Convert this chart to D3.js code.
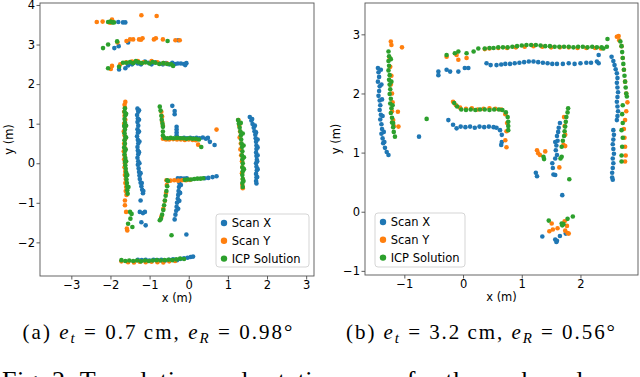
<!DOCTYPE html>
<html>
<head>
<meta charset="utf-8">
<script src="https://cdn.jsdelivr.net/npm/d3@7"></script>
<style>
  html, body { margin: 0; padding: 0; background: #fff; }
  svg { display: block; }
</style>
</head>
<body>
<div id="chart"></div>
<script>
// ---- data (metres) ----
const seriesNames = ["Scan X", "Scan Y", "ICP Solution"];
const seriesColors = ["#1f77b4", "#ff7f0e", "#2ca02c"];

// panel (a)
const xTicksA = [-3, -2, -1, 0, 1, 2, 3];
const yTicksA = [-2, -1, 0, 1, 2, 3, 4];

const scanXA = [
  [-1.80,3.57],[-1.68,3.56],[-1.62,3.56],
  [-1.90,2.91],[-1.79,2.96],[-1.55,3.05],[-0.27,3.11],
  [-1.78,2.37],[-1.62,2.40],[-1.55,2.47],[-1.45,2.50],[-1.38,2.55],[-1.30,2.52],[-1.22,2.50],[-1.12,2.57],
  [-1.02,2.54],[-0.95,2.50],[-0.85,2.55],[-0.75,2.52],[-0.66,2.50],[-0.58,2.53],[-0.50,2.50],[-0.42,2.54],
  [-0.35,2.51],[-0.28,2.52],[-0.20,2.52],[-0.12,2.51],[-0.06,2.53],[-0.09,2.48],
  [-1.31,1.38],[-1.29,1.30],[-1.32,1.22],[-1.30,1.13],[-1.31,1.04],[-1.29,0.95],[-1.31,0.86],[-1.30,0.77],
  [-1.32,0.68],[-1.30,0.59],[-1.29,0.50],[-1.31,0.41],[-1.30,0.32],[-1.29,0.23],[-1.31,0.14],[-1.29,0.05],
  [-1.30,-0.04],[-1.28,-0.13],[-1.27,-0.22],[-1.26,-0.31],[-1.25,-0.40],[-1.23,-0.49],[-1.21,-0.58],
  [-1.19,-0.67],[-1.17,-0.76],
  [-1.27,1.34],[-1.27,1.10],[-1.27,0.80],[-1.26,0.55],[-1.27,0.28],[-1.26,0.00],[-1.23,-0.25],[-1.20,-0.50],[-1.16,-0.70],
  [-1.23,-0.94],[-1.25,-1.23],[-1.17,-1.26],[-1.12,-1.23],[-1.21,-1.49],[-1.10,-1.57],
  [-0.42,1.45],[-0.36,1.32],[-0.36,1.24],[-0.31,0.92],[-0.31,0.85],[-0.31,0.78],[-0.31,0.71],
  [-0.28,0.64],[-0.20,0.63],[-0.12,0.64],[-0.04,0.63],[0.04,0.64],[0.12,0.63],[0.20,0.64],[0.28,0.63],
  [0.36,0.65],[0.44,0.62],[0.49,0.64],[0.54,0.54],[0.66,0.46],
  [1.56,1.17],[1.60,1.08],[1.63,0.99],[1.66,0.90],[1.68,0.81],[1.70,0.72],[1.71,0.63],[1.72,0.54],[1.73,0.45],
  [1.73,0.36],[1.72,0.27],[1.73,0.18],[1.74,0.09],[1.72,0.00],[1.73,-0.09],[1.74,-0.18],[1.72,-0.27],
  [1.73,-0.36],[1.72,-0.45],[1.73,-0.51],
  [1.62,1.12],[1.69,0.95],[1.72,0.78],[1.76,0.60],[1.76,0.40],[1.76,0.20],[1.75,0.05],[1.76,-0.15],[1.75,-0.35],
  [-0.23,-0.40],[-0.24,-0.50],[-0.25,-0.60],[-0.26,-0.70],[-0.27,-0.80],[-0.28,-0.90],[-0.30,-1.00],
  [-0.31,-1.10],[-0.32,-1.20],[-0.34,-1.30],[-0.36,-1.42],
  [-0.20,-0.55],[-0.22,-0.75],[-0.24,-0.95],[-0.27,-1.15],
  [-0.28,-0.38],[-0.20,-0.38],[-0.12,-0.39],[-0.05,-0.38],[0.41,-0.38],[0.50,-0.37],[0.61,-0.35],[0.71,-0.33],
  [-0.06,-1.80],
  [-1.30,-2.44],[-1.20,-2.45],[-1.10,-2.44],[-1.00,-2.46],[-0.90,-2.44],[-0.80,-2.45],[-0.70,-2.44],
  [-0.60,-2.46],[-0.50,-2.44],[-0.40,-2.43],[-0.30,-2.45],[-0.22,-2.42],[-0.12,-2.40],[-0.03,-2.39],
  [0.05,-2.37],[0.11,-2.36]
];

const scanYA = [
  [-2.35,3.57],[-2.20,3.58],[-1.96,3.63],[-2.01,3.55],[-1.21,3.74],[-0.82,3.72],
  [-1.82,3.05],[-1.59,3.09],[-1.50,3.13],[-1.42,3.13],[-1.27,3.13],[-1.18,3.16],[-1.22,3.12],
  [-0.89,3.13],[-0.84,3.16],[-0.66,3.13],[-0.34,3.11],[-0.23,3.11],
  [-1.96,2.46],[-1.99,2.38],[-1.75,2.50],[-1.60,2.55],[-1.45,2.57],[-1.30,2.58],[-1.15,2.55],
  [-0.95,2.58],[-0.80,2.55],[-0.65,2.53],[-0.55,2.52],
  [-1.62,1.55],[-1.64,1.48],[-1.63,1.40],[-1.65,1.30],[-1.64,1.20],[-1.62,1.10],[-1.65,1.00],[-1.63,0.90],
  [-1.66,0.80],[-1.64,0.70],[-1.63,0.60],[-1.65,0.50],[-1.64,0.40],[-1.66,0.30],[-1.64,0.20],[-1.65,0.10],
  [-1.63,0.00],[-1.64,-0.10],[-1.62,-0.20],[-1.63,-0.30],[-1.61,-0.40],[-1.62,-0.50],[-1.60,-0.60],
  [-1.61,-0.70],[-1.59,-0.80],[-1.63,-0.94],[-1.63,-1.06],[-1.60,-1.23],[-1.58,-1.65],[-1.57,-1.70],
  [-0.70,1.30],[-0.68,1.18],[-0.68,1.05],[-0.66,0.95],
  [-0.66,0.62],[-0.58,0.60],[-0.50,0.60],[-0.40,0.61],[-0.30,0.60],[-0.20,0.60],[-0.10,0.59],[0.00,0.60],
  [0.10,0.59],[0.18,0.58],[0.24,0.47],[0.71,0.85],
  [1.27,1.09],[1.29,0.95],[1.31,0.80],[1.30,0.65],[1.33,0.50],[1.32,0.35],[1.34,0.20],[1.36,0.05],
  [1.37,-0.10],[1.36,-0.25],[1.38,-0.40],[1.37,-0.55],[1.38,-0.63],
  [-0.57,-0.43],[-0.47,-0.44],[-0.37,-0.43],[-0.27,-0.44],[-0.17,-0.43],[-0.07,-0.43],[0.03,-0.42],
  [-0.56,-0.55],[-0.58,-0.75],[-0.61,-0.95],[-0.65,-1.15],[-0.70,-1.35],
  [-1.72,-2.48],[-1.55,-2.50],[-1.40,-2.51],[-1.25,-2.49],[-1.10,-2.50],[-0.95,-2.49],[-0.80,-2.50],
  [-0.65,-2.51],[-0.50,-2.48],[-0.35,-2.47]
];

const icpA = [
  [-2.06,3.57],[-1.95,3.56],[-1.91,3.56],[-2.00,3.58],
  [-2.19,2.91],[-2.06,3.00],[-1.83,3.08],[-0.54,3.09],
  [-2.06,2.40],[-1.78,2.44],[-1.68,2.54],[-1.59,2.54],[-1.50,2.56],[-1.42,2.53],[-1.35,2.58],[-1.28,2.55],
  [-1.20,2.53],[-1.10,2.55],[-1.00,2.52],[-0.92,2.56],[-0.85,2.54],[-0.75,2.51],[-0.65,2.53],[-0.55,2.51],
  [-0.45,2.50],[-0.40,2.46],
  [-1.63,1.39],[-1.64,1.30],[-1.62,1.21],[-1.64,1.12],[-1.63,1.03],[-1.65,0.94],[-1.63,0.85],[-1.64,0.76],
  [-1.62,0.67],[-1.64,0.58],[-1.63,0.49],[-1.65,0.40],[-1.63,0.31],[-1.64,0.22],[-1.62,0.13],[-1.63,0.04],
  [-1.62,-0.05],[-1.61,-0.14],[-1.60,-0.23],[-1.60,-0.32],[-1.59,-0.41],[-1.58,-0.50],[-1.57,-0.59],
  [-1.57,-0.68],[-1.56,-0.77],
  [-1.60,1.25],[-1.60,0.95],[-1.60,0.65],[-1.61,0.35],[-1.60,0.05],[-1.57,-0.30],[-1.54,-0.60],
  [-1.50,-1.23],[-1.46,-1.28],[-1.49,-1.40],[-1.44,-1.61],[-1.55,-1.53],
  [-0.74,1.43],[-0.72,1.33],[-0.70,1.20],[-0.69,1.10],[-0.67,1.00],[-0.66,0.92],[-0.66,0.80],[-0.66,0.70],
  [-0.62,0.64],[-0.54,0.63],[-0.46,0.64],[-0.38,0.63],[-0.30,0.64],[-0.22,0.63],[-0.14,0.63],[-0.06,0.62],
  [0.02,0.63],[0.10,0.62],[0.18,0.62],[0.26,0.60],[0.32,0.41],
  [1.26,1.09],[1.28,1.00],[1.30,0.90],[1.32,0.80],[1.33,0.70],[1.34,0.60],[1.35,0.50],[1.36,0.41],
  [1.37,0.30],[1.36,0.20],[1.37,0.10],[1.38,0.00],[1.37,-0.10],[1.38,-0.20],[1.37,-0.30],[1.38,-0.40],
  [1.37,-0.50],[1.38,-0.60],
  [1.33,1.02],[1.38,0.75],[1.40,0.45],[1.41,0.15],[1.41,-0.15],[1.40,-0.45],
  [-0.53,-0.45],[-0.55,-0.58],[-0.57,-0.70],[-0.59,-0.82],[-0.61,-0.94],[-0.63,-1.06],[-0.65,-1.18],
  [-0.68,-1.30],[-0.71,-1.40],[-0.74,-1.44],
  [-0.55,-0.43],[-0.10,-0.42],[-0.02,-0.41],[0.06,-0.41],[0.14,-0.40],[0.22,-0.39],[0.30,-0.39],[0.37,-0.38],
  [-0.44,-1.82],
  [-1.72,-2.45],[-1.62,-2.47],[-1.52,-2.46],[-1.42,-2.47],[-1.32,-2.46],[-1.22,-2.48],[-1.12,-2.46],
  [-1.02,-2.47],[-0.92,-2.46],[-0.82,-2.45],[-0.72,-2.46],[-0.62,-2.45],[-0.52,-2.44],[-0.42,-2.45],
  [-0.32,-2.43],[-0.22,-2.41],[-0.12,-2.42]
];

// panel (b)
const xTicksB = [-1, 0, 1, 2];
const yTicksB = [-1, 0, 1, 2, 3];

const scanXB = [
  [-1.45,2.43],[-1.44,2.36],[-1.43,2.28],[-1.45,2.20],[-1.42,2.12],[-1.43,2.04],[-1.44,1.96],[-1.42,1.88],
  [-1.41,1.80],[-1.42,1.72],[-1.40,1.64],[-1.41,1.56],[-1.39,1.48],[-1.38,1.40],[-1.39,1.32],[-1.37,1.24],
  [-1.36,1.16],[-1.33,1.08],[-1.30,1.01],[-1.27,0.96],
  [-1.40,2.40],[-1.39,2.15],[-1.38,1.90],[-1.37,1.62],[-1.35,1.35],[-1.34,1.18],
  [-0.75,1.27],
  [-0.42,2.37],[-0.42,2.31],[-0.28,2.40],[-0.22,2.37],[-0.08,2.37],[0.03,2.43],[0.09,2.43],
  [0.40,2.51],[0.47,2.48],[0.57,2.48],[0.65,2.49],[0.72,2.50],[0.80,2.50],[0.88,2.51],[0.96,2.52],
  [1.04,2.53],[1.12,2.54],[1.20,2.54],[1.28,2.53],[1.36,2.52],[1.44,2.51],[1.52,2.50],[1.60,2.50],
  [1.70,2.50],[1.80,2.51],[1.90,2.50],[2.00,2.51],[2.10,2.52],[2.18,2.52],[2.28,2.54],[2.31,2.51],[2.31,2.65],
  [2.53,2.62],[2.56,2.55],[2.58,2.48],[2.60,2.41],[2.62,2.34],[2.63,2.26],[2.62,2.18],[2.63,2.10],
  [2.64,2.02],[2.63,1.94],[2.62,1.86],[2.63,1.78],[2.64,1.70],[2.63,1.62],[2.62,1.55],
  [2.56,1.38],[2.57,1.30],[2.56,1.22],[2.55,1.14],[2.56,1.06],[2.57,0.98],[2.55,0.90],[2.56,0.82],
  [2.55,0.74],[2.54,0.66],[2.54,0.58],[2.55,0.54],
  [-0.25,1.55],[-0.17,1.47],[-0.11,1.41],[-0.04,1.44],[0.04,1.43],[0.12,1.44],[0.20,1.42],[0.28,1.44],
  [0.36,1.43],[0.44,1.44],[0.52,1.43],[0.57,1.42],[0.63,1.38],[0.66,1.30],[0.66,1.18],[0.65,1.13],
  [1.65,1.50],[1.63,1.42],[1.62,1.35],[1.60,1.28],[1.61,1.20],[1.59,1.12],[1.58,1.04],[1.60,0.96],
  [1.57,0.90],[1.57,1.18],
  [1.52,0.82],[1.53,0.74],[1.24,0.66],[1.26,0.60],[1.54,0.63],[1.57,0.62],[1.69,0.28],
  [1.75,-0.37],[1.65,-0.41],[1.35,-0.42],[1.57,-0.47],[1.60,-0.49],[1.59,-0.51]
];

const scanYB = [
  [-1.23,2.88],[-1.22,2.82],[-1.04,2.78],
  [-1.25,2.60],[-1.24,2.45],[-1.22,2.30],[-1.23,2.15],[-1.21,2.00],[-1.20,1.85],[-1.21,1.70],
  [-1.19,1.55],[-1.18,1.45],[-1.11,1.69],[-1.10,1.44],
  [-0.08,2.57],[0.06,2.60],[-0.28,2.62],[-0.11,2.65],[0.37,2.75],
  [0.45,2.76],[0.60,2.77],[0.75,2.77],[0.90,2.78],[1.05,2.79],[1.20,2.80],[1.35,2.79],[1.50,2.78],
  [1.65,2.78],[1.80,2.78],[1.95,2.77],[2.10,2.77],[2.25,2.77],[2.35,2.76],[2.62,2.96],[2.65,2.97],
  [2.66,2.90],[2.70,2.80],[2.72,2.60],[2.74,2.40],[2.76,2.20],[2.78,2.00],[2.80,1.85],[2.78,1.70],
  [2.76,1.55],[2.74,1.40],[2.75,1.25],[2.76,1.10],[2.77,0.95],[2.76,0.85],
  [-0.17,1.86],[-0.12,1.80],[-0.05,1.76],[0.05,1.74],[0.15,1.75],[0.25,1.73],[0.35,1.74],[0.45,1.75],
  [0.55,1.74],[0.65,1.73],[0.72,1.65],[0.75,1.50],[0.74,1.36],[0.72,1.21],[0.74,1.09],
  [1.72,1.60],[1.73,1.45],[1.74,1.30],[1.71,1.13],[1.74,1.11],[1.64,0.75],
  [1.26,1.04],[1.28,0.99],[1.31,0.96],[1.40,1.02],
  [1.51,-0.20],[1.73,-0.16],[1.77,-0.24],[1.53,-0.30],[1.61,-0.28],[1.47,-0.33],[1.74,-0.32],
  [1.78,-0.36],[1.80,-0.37]
];

const icpB = [
  [-1.27,2.71],[-1.26,2.63],[-1.27,2.55],[-1.26,2.47],[-1.27,2.39],[-1.25,2.31],[-1.26,2.23],[-1.25,2.15],
  [-1.24,2.07],[-1.25,1.99],[-1.23,1.91],[-1.24,1.83],[-1.22,1.75],[-1.23,1.67],[-1.21,1.59],[-1.21,1.51],
  [-1.19,1.43],[-1.18,1.35],[-1.16,1.27],
  [-1.23,2.58],[-1.22,2.20],[-1.20,1.80],[-1.19,1.50],
  [-0.62,1.57],
  [-0.28,2.65],[-0.14,2.68],[-0.08,2.71],[0.06,2.68],[0.18,2.71],[0.26,2.76],[0.37,2.76],[0.45,2.77],
  [0.52,2.77],[0.60,2.78],[0.68,2.78],[0.76,2.78],[0.84,2.79],[0.92,2.80],[1.00,2.81],[1.08,2.82],
  [1.16,2.82],[1.24,2.82],[1.32,2.81],[1.40,2.80],[1.48,2.80],[1.56,2.79],[1.64,2.79],[1.72,2.79],
  [1.80,2.79],[1.88,2.78],[1.96,2.79],[2.04,2.79],[2.12,2.78],[2.20,2.79],[2.28,2.78],[2.36,2.78],
  [2.39,2.76],[2.45,2.79],[2.46,2.92],
  [2.68,2.88],[2.70,2.80],[2.71,2.70],[2.72,2.60],[2.73,2.50],[2.74,2.40],[2.75,2.30],[2.76,2.20],
  [2.77,2.10],[2.78,2.00],[2.79,1.95],[2.72,1.80],[2.71,1.65],[2.72,1.50],[2.70,1.38],[2.72,1.25],
  [2.71,1.10],[2.70,0.95],[2.70,0.85],
  [-0.15,1.84],[-0.10,1.78],[-0.03,1.73],[0.05,1.72],[0.13,1.73],[0.21,1.72],[0.29,1.73],[0.37,1.73],
  [0.45,1.72],[0.53,1.73],[0.61,1.73],[0.67,1.72],[0.73,1.68],[0.76,1.60],[0.77,1.52],[0.77,1.45],[0.77,1.38],
  [1.79,1.75],[1.78,1.68],[1.76,1.60],[1.75,1.52],[1.74,1.44],[1.73,1.36],[1.72,1.28],[1.70,1.20],
  [1.68,1.10],[1.68,0.93],[1.66,0.90],[1.81,0.55],[1.37,0.93],[1.38,0.89],
  [1.46,-0.15],[1.68,-0.20],[1.71,-0.21],[1.78,-0.12],[1.87,-0.08],[1.69,-0.23]
];

const captionA = { label: "(a) ", et: "0.7", eR: "0.98" };
const captionB = { label: "(b) ", et: "3.2", eR: "0.56" };
const figCaption = "Fig. 2: Translation and rotation error for the on-board com";

// ---- drawing ----
const W = 640, H = 377;
const svg = d3.select("#chart").append("svg")
  .attr("width", W).attr("height", H)
  .attr("viewBox", [0, 0, W, H]);

const tickFont = "DejaVu Sans, sans-serif";

function drawPanel(p) {
  const x = d3.scaleLinear().domain(p.xDomain).range([p.left, p.right]);
  const y = d3.scaleLinear().domain(p.yDomain).range([p.bottom, p.top]);
  const g = svg.append("g");

  const clipId = "clip-" + p.id;
  g.append("clipPath").attr("id", clipId)
    .append("rect")
    .attr("x", p.left).attr("y", p.top)
    .attr("width", p.right - p.left).attr("height", p.bottom - p.top);

  const pts = g.append("g").attr("clip-path", `url(#${clipId})`);
  p.series.forEach((s, i) => {
    pts.append("g")
      .attr("fill", seriesColors[i])
      .selectAll("circle")
      .data(s)
      .join("circle")
      .attr("cx", d => x(d[0]))
      .attr("cy", d => y(d[1]))
      .attr("r", 2.3);
  });

  const xAxis = g.append("g")
    .attr("transform", `translate(0,${p.bottom})`)
    .call(d3.axisBottom(x).tickValues(p.xTicks).tickSize(3.5).tickPadding(1).tickFormat(d3.format("d")));
  const yAxis = g.append("g")
    .attr("transform", `translate(${p.left},0)`)
    .call(d3.axisLeft(y).tickValues(p.yTicks).tickSize(3.5).tickPadding(1.5).tickFormat(d3.format("d")));
  [xAxis, yAxis].forEach(a => {
    a.select(".domain").remove();
    a.selectAll("line").attr("stroke", "#333").attr("stroke-width", 0.8);
    a.selectAll("text").attr("fill", "#000")
      .style("font-family", tickFont).style("font-size", "11.5px");
  });

  g.append("rect")
    .attr("x", p.left).attr("y", p.top)
    .attr("width", p.right - p.left).attr("height", p.bottom - p.top)
    .attr("fill", "none").attr("stroke", "#555").attr("stroke-width", 0.9);

  g.append("text")
    .attr("x", (p.left + p.right) / 2).attr("y", p.bottom + 25.5)
    .attr("text-anchor", "middle")
    .style("font-family", tickFont).style("font-size", "11.5px")
    .text("x (m)");
  g.append("text")
    .attr("transform", `translate(${p.yLabelX},${(p.top + p.bottom) / 2}) rotate(-90)`)
    .attr("text-anchor", "middle")
    .style("font-family", tickFont).style("font-size", "11.5px")
    .text("y (m)");

  // legend
  const lg = g.append("g");
  lg.append("rect")
    .attr("x", p.legend.x).attr("y", p.legend.y)
    .attr("width", p.legend.w).attr("height", p.legend.h)
    .attr("rx", 3)
    .attr("fill", "#fff").attr("fill-opacity", 0.85)
    .attr("stroke", "#d0d0d0").attr("stroke-width", 0.9);
  seriesNames.forEach((name, i) => {
    const cy = p.legend.y + 9 + i * 17.8;
    lg.append("circle")
      .attr("cx", p.legend.x + 8).attr("cy", cy).attr("r", 3.2)
      .attr("fill", seriesColors[i]);
    lg.append("text")
      .attr("x", p.legend.x + 15.7).attr("y", cy + 4.2)
      .style("font-family", tickFont).style("font-size", "11.5px")
      .text(name);
  });
}

drawPanel({
  id: "a", left: 40, right: 314, top: 3, bottom: 276,
  xDomain: [-3.8, 3.2], yDomain: [-2.85, 4.05],
  xTicks: xTicksA, yTicks: yTicksA,
  series: [scanXA, scanYA, icpA],
  yLabelX: 13,
  legend: { x: 216, y: 214, w: 93, h: 53 }
});

drawPanel({
  id: "b", left: 365, right: 638, top: 3, bottom: 275,
  xDomain: [-1.67, 2.98], yDomain: [-1.07, 3.53],
  xTicks: xTicksB, yTicks: yTicksB,
  series: [scanXB, scanYB, icpB],
  yLabelX: 340,
  legend: { x: 375, y: 213, w: 90, h: 54 }
});

// captions
function caption(c, cx, len) {
  const t = svg.append("text")
    .attr("x", cx).attr("y", 339)
    .attr("text-anchor", "middle")
    .attr("textLength", len).attr("lengthAdjust", "spacing")
    .style("font-family", "Liberation Serif, Times New Roman, serif")
    .style("font-size", "21px");
  t.append("tspan").text(c.label);
  t.append("tspan").style("font-style", "italic").text("e");
  t.append("tspan").attr("dy", 4).style("font-size", "15px").style("font-style", "italic").text("t");
  t.append("tspan").attr("dy", -4).text(" = " + c.et + "\u2009cm, ");
  t.append("tspan").style("font-style", "italic").text("e");
  t.append("tspan").attr("dy", 4).style("font-size", "15px").style("font-style", "italic").text("R");
  t.append("tspan").attr("dy", -4).text(" = " + c.eR + "\u00b0");
}
caption(captionA, 157.5, 270);
caption(captionB, 480.5, 269);

svg.append("text")
  .attr("x", 2).attr("y", 389)
  .attr("textLength", 634).attr("lengthAdjust", "spacing")
  .style("font-family", "Liberation Serif, Times New Roman, serif")
  .style("font-size", "26px")
  .text(figCaption);
</script>
</body>
</html>
